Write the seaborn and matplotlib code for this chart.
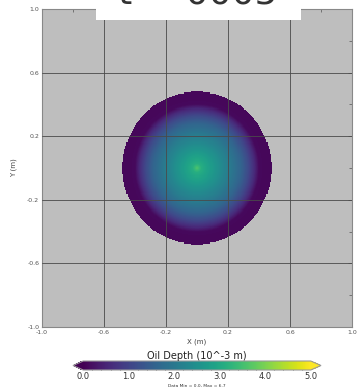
"""
Oil depth field snapshot
"""
import numpy as np
import matplotlib
matplotlib.use('Agg')
import matplotlib.pyplot as plt
from matplotlib.patches import Rectangle
import seaborn as sns

# radial profile of the spill (radius in m, depth in 10^-3 m)
radius = [0.0, 0.03, 0.08, 0.15, 0.22, 0.28, 0.33, 0.37, 0.40, 0.44, 0.48]
depth = [3.6, 3.1, 2.8, 2.4, 2.0, 1.6, 1.1, 0.6, 0.12, 0.08, 0.08]
spill_edge = 0.48

tick_vals = [-1.0, -0.6, -0.2, 0.2, 0.6, 1.0]
minor_vals = [-0.8, -0.4, 0.0, 0.4, 0.8]
cbar_ticks = [0.0, 1.0, 2.0, 3.0, 4.0, 5.0]
title_text = 't = 0005'
data_min, data_max = 0.0, 6.7

sns.set_style('white')
plt.rcParams['font.family'] = ['DejaVu Sans']

# build the field on a grid
n = 300
xs = np.linspace(-1, 1, n)
X, Y = np.meshgrid(xs, xs)
R = np.hypot(X, Y)
field = np.interp(R, radius, depth)
field = np.ma.masked_where(R > spill_edge, field)

fig = plt.figure(figsize=(3.58, 3.91), dpi=100)
ax = fig.add_axes([42/358, 1-327/391, 310/358, 318/391])
ax.set_facecolor('#bebebe')

cmap = sns.color_palette('viridis', as_cmap=True).copy()
cmap.set_over('#fde725')
cmap.set_under('#440154')
im = ax.pcolormesh(X, Y, field, cmap=cmap, vmin=0, vmax=5,
                   shading='nearest', zorder=1, rasterized=True)

ax.set_xlim(-1, 1)
ax.set_ylim(-1, 1)
ax.set_xticks(tick_vals)
ax.set_yticks(tick_vals)
ax.set_xticks(minor_vals, minor=True)
ax.set_yticks(minor_vals, minor=True)
ax.set_xticklabels(['%.1f' % v for v in tick_vals])
ax.set_yticklabels(['%.1f' % v for v in tick_vals])
ax.tick_params(which='both', direction='in', top=True, right=True,
               labelsize=4.5, labelcolor='#555555', color='#666666', pad=2)
ax.tick_params(which='major', length=3, width=0.6)
ax.tick_params(which='minor', length=2, width=0.6)
# grid lines drawn on top of the field
for v in tick_vals[1:-1]:
    ax.axvline(v, color='#4a4a4a', linewidth=0.6, zorder=3)
    ax.axhline(v, color='#4a4a4a', linewidth=0.6, zorder=3)
for s in ax.spines.values():
    s.set_color('#888888')
    s.set_linewidth(0.8)
ax.set_xlabel('X (m)', fontsize=5, color='#444444', labelpad=3)
ax.set_ylabel('Y (m)', fontsize=5, color='#444444', labelpad=7)

# colorbar
cax = fig.add_axes([73/358, 1-370/391, 248/358, 9/391])
cb = fig.colorbar(im, cax=cax, orientation='horizontal', extend='both',
                  ticks=cbar_ticks, extendfrac=0.045)
cb.ax.set_xticklabels(['%.1f' % v for v in cbar_ticks])
cb.ax.tick_params(labelsize=6, length=0, pad=1.5, labelcolor='#333333')
cb.ax.minorticks_on()
cb.ax.tick_params(which='minor', length=2, direction='in', color='#555555')
cb.outline.set_edgecolor('#999999')
cb.outline.set_linewidth(0.8)
cb.ax.set_title('Oil Depth (10^-3 m)', fontsize=7, color='#222222', pad=1.5)

fig.text(0.5 * (83 + 311) / 358, 1 - 386/391,
         'Data Min = %.1f, Max = %.1f' % (data_min, data_max),
         fontsize=3.2, ha='center', va='center', color='#333333')

# title box mostly cropped off the top of the figure
fig.patches.append(Rectangle((96/358, 1-20/391), 205/358, 20/391,
                             transform=fig.transFigure, facecolor='white',
                             edgecolor='none', zorder=5))
fig.text(198/358, 1-4/391, title_text, fontsize=26, ha='center',
         va='baseline', color='#333333', zorder=6)

fig.savefig('out.png', dpi=100)
